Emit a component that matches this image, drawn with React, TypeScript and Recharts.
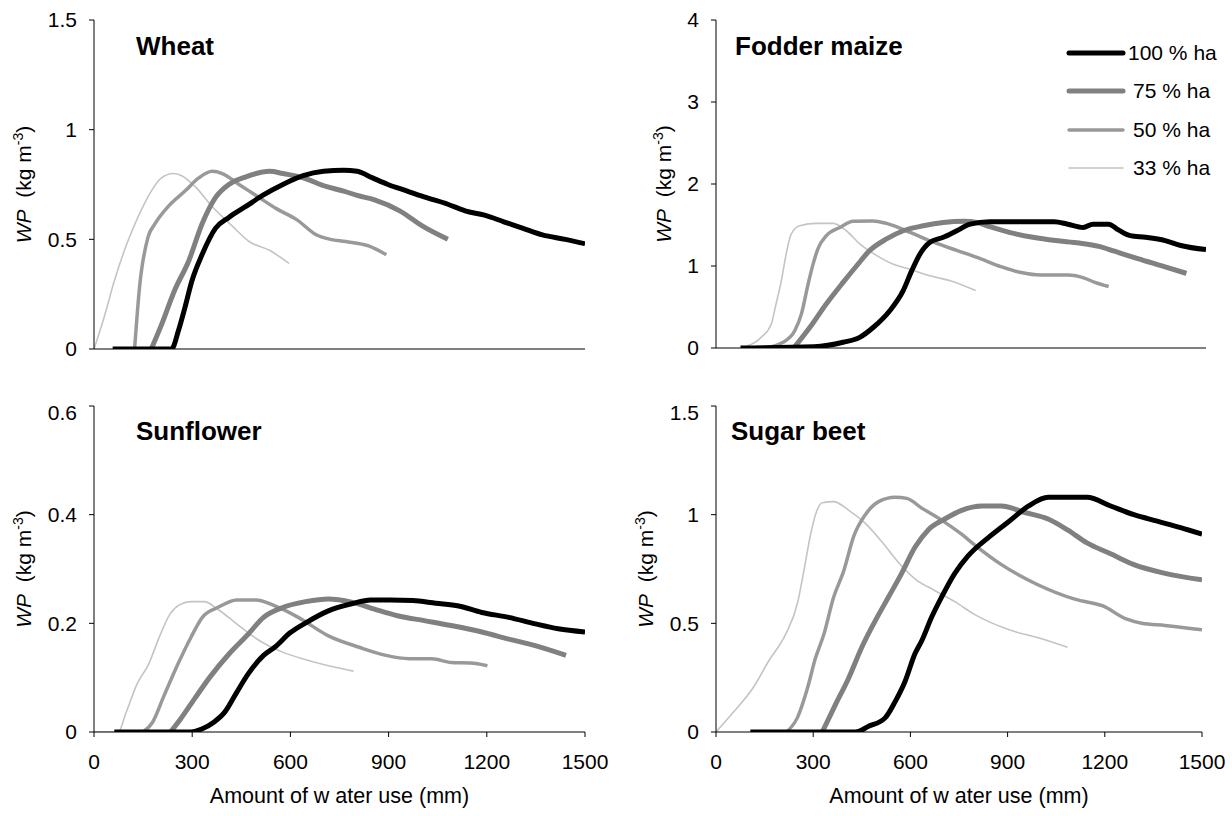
import { LineChart, Line, XAxis, YAxis } from "recharts"

// x = amount of water use (mm), y = WP (kg m-3)
type Pt = [number, number]

const xTicks = [0, 300, 600, 900, 1200, 1500]

const wheat100: Pt[] = [[57, 0], [237, 0], [258, 0.084], [278, 0.19], [299, 0.31], [330, 0.43], [371, 0.55], [412, 0.6], [464, 0.65], [515, 0.7], [577, 0.75], [639, 0.79], [701, 0.81], [763, 0.815], [804, 0.81], [851, 0.78], [898, 0.75], [957, 0.72], [1016, 0.69], [1081, 0.66], [1134, 0.63], [1193, 0.61], [1252, 0.58], [1311, 0.55], [1370, 0.52], [1440, 0.5], [1500, 0.48]]
const wheat75: Pt[] = [[175, 0], [206, 0.11], [247, 0.27], [289, 0.4], [330, 0.57], [371, 0.69], [412, 0.75], [464, 0.785], [536, 0.81], [577, 0.8], [639, 0.78], [711, 0.74], [763, 0.72], [804, 0.7], [857, 0.68], [934, 0.63], [1004, 0.56], [1081, 0.5]]
const wheat50: Pt[] = [[124, 0], [139, 0.28], [165, 0.51], [186, 0.57], [227, 0.65], [278, 0.72], [320, 0.78], [361, 0.81], [392, 0.8], [443, 0.75], [495, 0.7], [557, 0.64], [619, 0.59], [680, 0.52], [722, 0.5], [769, 0.49], [839, 0.47], [893, 0.43]]
const wheat33: Pt[] = [[0, 0], [31, 0.145], [62, 0.31], [103, 0.49], [134, 0.6], [175, 0.72], [206, 0.78], [242, 0.8], [268, 0.79], [309, 0.74], [361, 0.65], [423, 0.56], [474, 0.49], [536, 0.45], [596, 0.39]]

const maize100: Pt[] = [[75, 0], [300, 0.016], [389, 0.07], [440, 0.13], [481, 0.25], [532, 0.455], [573, 0.7], [599, 0.94], [625, 1.15], [655, 1.29], [696, 1.35], [737, 1.43], [778, 1.51], [838, 1.54], [898, 1.54], [970, 1.54], [1035, 1.54], [1077, 1.51], [1124, 1.47], [1154, 1.51], [1202, 1.51], [1232, 1.44], [1268, 1.37], [1315, 1.35], [1375, 1.31], [1423, 1.25], [1500, 1.2]]
const maize75: Pt[] = [[238, 0], [287, 0.25], [338, 0.54], [389, 0.8], [430, 1.0], [471, 1.19], [522, 1.33], [573, 1.43], [635, 1.49], [696, 1.53], [758, 1.545], [799, 1.53], [838, 1.48], [898, 1.41], [970, 1.35], [1040, 1.31], [1112, 1.28], [1172, 1.24], [1220, 1.18], [1291, 1.09], [1375, 0.99], [1440, 0.91]]
const maize50: Pt[] = [[150, 0], [205, 0.07], [241, 0.21], [261, 0.41], [282, 0.78], [297, 1.02], [312, 1.21], [338, 1.37], [379, 1.47], [420, 1.545], [481, 1.55], [522, 1.52], [594, 1.41], [666, 1.29], [737, 1.19], [799, 1.105], [874, 0.99], [934, 0.92], [994, 0.89], [1077, 0.89], [1130, 0.85], [1160, 0.8], [1202, 0.75]]
const maize33: Pt[] = [[77, 0], [138, 0.13], [169, 0.29], [184, 0.54], [200, 0.82], [215, 1.15], [230, 1.39], [256, 1.49], [307, 1.52], [358, 1.52], [399, 1.43], [440, 1.27], [491, 1.13], [543, 1.02], [594, 0.96], [655, 0.88], [717, 0.82], [795, 0.7]]

const sun100: Pt[] = [[62, 0], [296, 0], [331, 0.006], [366, 0.018], [400, 0.037], [436, 0.073], [471, 0.107], [518, 0.141], [552, 0.156], [600, 0.183], [647, 0.201], [716, 0.223], [787, 0.236], [845, 0.243], [904, 0.243], [974, 0.242], [1044, 0.237], [1114, 0.232], [1185, 0.22], [1267, 0.211], [1348, 0.199], [1418, 0.19], [1500, 0.184]]
const sun75: Pt[] = [[234, 0], [261, 0.021], [307, 0.061], [354, 0.101], [413, 0.144], [471, 0.18], [518, 0.211], [576, 0.229], [647, 0.24], [716, 0.245], [787, 0.239], [857, 0.226], [927, 0.214], [1009, 0.205], [1091, 0.196], [1185, 0.184], [1267, 0.171], [1348, 0.159], [1442, 0.141]]
const sun50: Pt[] = [[150, 0], [179, 0.018], [214, 0.067], [261, 0.131], [296, 0.174], [331, 0.211], [378, 0.229], [436, 0.243], [495, 0.243], [553, 0.232], [624, 0.211], [716, 0.177], [810, 0.156], [892, 0.141], [962, 0.135], [1032, 0.135], [1091, 0.128], [1150, 0.127], [1202, 0.122]]
const sun33: Pt[] = [[0, 0], [74, 0], [97, 0.034], [132, 0.089], [167, 0.125], [197, 0.171], [232, 0.217], [261, 0.234], [296, 0.24], [337, 0.24], [378, 0.226], [436, 0.199], [506, 0.168], [576, 0.147], [647, 0.133], [716, 0.122], [793, 0.112]]

const beet100: Pt[] = [[106, 0], [430, 0], [471, 0.026], [522, 0.065], [553, 0.14], [584, 0.235], [614, 0.36], [635, 0.42], [666, 0.53], [696, 0.62], [737, 0.73], [778, 0.81], [845, 0.9], [905, 0.97], [965, 1.04], [1025, 1.08], [1085, 1.08], [1145, 1.08], [1218, 1.04], [1290, 1.0], [1362, 0.97], [1434, 0.94], [1500, 0.91]]
const beet75: Pt[] = [[328, 0], [369, 0.127], [410, 0.25], [450, 0.39], [491, 0.51], [532, 0.62], [573, 0.73], [614, 0.85], [655, 0.93], [706, 0.98], [758, 1.02], [821, 1.04], [881, 1.04], [953, 1.01], [1025, 0.98], [1085, 0.93], [1145, 0.87], [1218, 0.82], [1290, 0.77], [1386, 0.73], [1500, 0.7]]
const beet50: Pt[] = [[218, 0], [251, 0.065], [282, 0.2], [307, 0.34], [333, 0.45], [363, 0.62], [394, 0.74], [425, 0.9], [461, 1.0], [502, 1.06], [553, 1.08], [589, 1.075], [635, 1.03], [696, 0.975], [758, 0.91], [799, 0.86], [881, 0.77], [990, 0.68], [1110, 0.61], [1194, 0.58], [1266, 0.52], [1314, 0.5], [1386, 0.49], [1500, 0.47]]
const beet33: Pt[] = [[0, 0], [56, 0.095], [113, 0.2], [164, 0.33], [215, 0.45], [251, 0.59], [271, 0.74], [292, 0.91], [307, 1.0], [328, 1.055], [363, 1.06], [410, 1.02], [461, 0.96], [512, 0.875], [563, 0.78], [614, 0.705], [676, 0.65], [737, 0.6], [799, 0.54], [905, 0.47], [1002, 0.43], [1085, 0.39]]

const seriesNames = ["100 % ha", "75 % ha", "50 % ha", "33 % ha"]
const seriesColors = ["#000000", "#808080", "#999999", "#c4c4c4"]
const seriesWidths = [5, 5, 3.5, 1.6]

const font = "'Liberation Sans', Arial, sans-serif"

const toRows = (pts: Pt[]) => pts.map(([x, y]) => ({ x, y }))

function YTitle({ viewBox, cx }: any) {
  const cy = viewBox.y + viewBox.height / 2
  return (
    <text x={cx} y={cy} transform={`rotate(-90 ${cx} ${cy})`} textAnchor="middle" fontSize={21} fill="#000" fontFamily={font}>
      <tspan fontStyle="italic">WP</tspan>
      <tspan>{"\u00a0\u00a0(kg m"}</tspan>
      <tspan dy={-8} fontSize={14}>-3</tspan>
      <tspan dy={8}>)</tspan>
    </text>
  )
}

function XTitle({ viewBox }: any) {
  return (
    <text x={viewBox.x + viewBox.width / 2} y={viewBox.y + 71} textAnchor="middle" fontSize={21.5} fill="#000" fontFamily={font}>
      Amount of w ater use (mm)
    </text>
  )
}

interface PanelProps {
  left: number
  top: number
  width: number
  height: number
  margin: { top: number; right: number; bottom: number; left: number }
  yAxisWidth: number
  xAxisHeight: number
  yMax: number
  yTicks: number[]
  lines: Pt[][]
  labelX: number
  bottom?: boolean
}

function Panel(p: PanelProps) {
  return (
    <div style={{ position: "absolute", left: p.left, top: p.top, width: p.width, height: p.height }}>
      <LineChart width={p.width} height={p.height} margin={p.margin}>
        <XAxis
          type="number"
          dataKey="x"
          domain={[0, 1500]}
          ticks={xTicks}
          allowDataOverflow
          height={p.xAxisHeight}
          stroke="#000"
          tickSize={5}
          tickMargin={17}
          tick={p.bottom ? { fill: "#000", fontSize: 21 } : false}
          label={p.bottom ? (props: any) => <XTitle {...props} /> : undefined}
        />
        <YAxis
          type="number"
          domain={[0, p.yMax]}
          ticks={p.yTicks}
          allowDataOverflow
          width={p.yAxisWidth}
          stroke="#000"
          tickSize={5}
          tickMargin={12}
          tick={{ fill: "#000", fontSize: 21 }}
          label={(props: any) => <YTitle {...props} cx={p.labelX} />}
        />
        {[3, 2, 1, 0].map((i) => (
          <Line
            key={seriesNames[i]}
            name={seriesNames[i]}
            data={toRows(p.lines[i])}
            dataKey="y"
            type="monotone"
            stroke={seriesColors[i]}
            strokeWidth={seriesWidths[i]}
            dot={false}
            activeDot={false}
            isAnimationActive={false}
          />
        ))}
      </LineChart>
    </div>
  )
}

export default function App() {
  return (
    <div style={{ position: "absolute", left: 0, top: 0, width: 1232, height: 816, background: "#fff", fontFamily: font }}>
      <Panel
        left={0} top={0} width={616} height={400}
        margin={{ top: 20, right: 31, bottom: 21, left: 0 }}
        yAxisWidth={94} xAxisHeight={30}
        yMax={1.5} yTicks={[0, 0.5, 1, 1.5]}
        lines={[wheat100, wheat75, wheat50, wheat33]}
        labelX={31}
      />
      <Panel
        left={616} top={0} width={616} height={400}
        margin={{ top: 20, right: 26, bottom: 22, left: 0 }}
        yAxisWidth={100} xAxisHeight={30}
        yMax={4} yTicks={[0, 1, 2, 3, 4]}
        lines={[maize100, maize75, maize50, maize33]}
        labelX={55}
      />
      <Panel
        left={0} top={400} width={616} height={416}
        margin={{ top: 6, right: 31, bottom: 0, left: 0 }}
        yAxisWidth={94} xAxisHeight={84}
        yMax={0.6} yTicks={[0, 0.2, 0.4, 0.6]}
        lines={[sun100, sun75, sun50, sun33]}
        labelX={31}
        bottom
      />
      <Panel
        left={616} top={400} width={616} height={416}
        margin={{ top: 6, right: 30, bottom: 0, left: 0 }}
        yAxisWidth={100} xAxisHeight={84}
        yMax={1.5} yTicks={[0, 0.5, 1, 1.5]}
        lines={[beet100, beet75, beet50, beet33]}
        labelX={37}
        bottom
      />
      <svg width={1232} height={816} style={{ position: "absolute", left: 0, top: 0, pointerEvents: "none" }}>
        <g fontFamily={font} fontWeight="bold" fontSize={26} fill="#000">
          <text x={136} y={55}>Wheat</text>
          <text x={735} y={55}>Fodder maize</text>
          <text x={136} y={440}>Sunflower</text>
          <text x={731} y={440}>Sugar beet</text>
        </g>
        {seriesNames.map((name, i) => {
          const y = [53, 91, 130, 168][i]
          return (
            <g key={name}>
              <line x1={1069} x2={1123} y1={y} y2={y} stroke={seriesColors[i]} strokeWidth={seriesWidths[i]} strokeLinecap="round" />
              <text x={i === 0 ? 1128 : 1133} y={y + 7} fontFamily={font} fontSize={21} fill="#000">{name}</text>
            </g>
          )
        })}
      </svg>
    </div>
  )
}
